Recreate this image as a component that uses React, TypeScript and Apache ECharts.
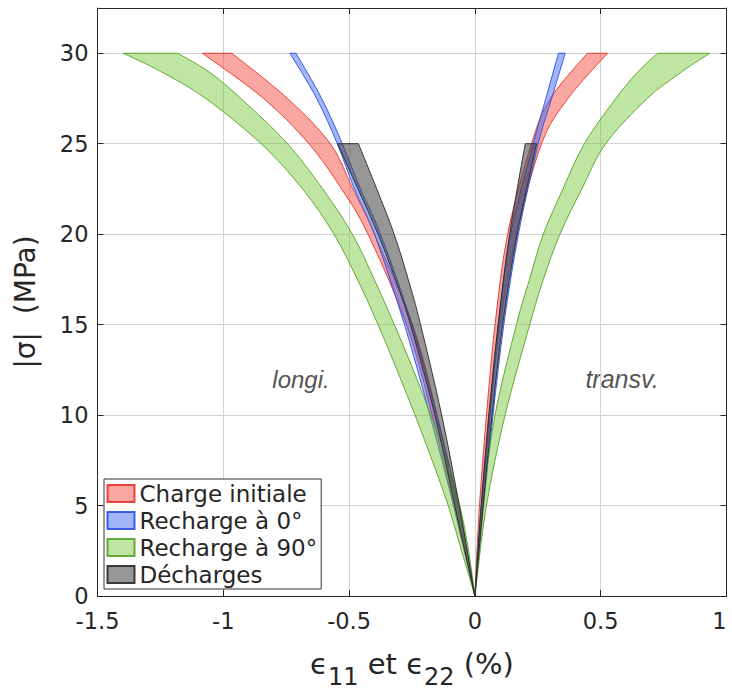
import React, { useEffect, useRef } from "react";
import * as echarts from "echarts";

// x: strain ε (%), y: |σ| (MPa)
const xTickValues = [-1.5, -1, -0.5, 0, 0.5, 1];
const yTickValues = [0, 5, 10, 15, 20, 25, 30];

// Charge initiale (red)
const chargeLeftOuter = [[0, 0], [-0.085, 5], [-0.17, 10], [-0.272, 15], [-0.425, 20], [-0.53, 22.5], [-0.66, 25], [-0.84, 27.5], [-1.083, 30]];
const chargeLeftInner = [[0, 0], [-0.07, 5], [-0.15, 10], [-0.248, 15], [-0.399, 20], [-0.485, 22.5], [-0.575, 25], [-0.745, 27.5], [-0.966, 30]];
const chargeRightInner = [[0, 0], [0.018, 5], [0.046, 10], [0.08, 15], [0.13, 20], [0.225, 25], [0.3, 27.5], [0.447, 30]];
const chargeRightOuter = [[0, 0], [0.03, 5], [0.06, 10], [0.1, 15], [0.165, 20], [0.265, 25], [0.37, 27.5], [0.527, 30]];

// Recharge à 0° (blue)
const r0LeftOuter = [[0, 0], [-0.085, 5], [-0.179, 10], [-0.28, 15], [-0.399, 20], [-0.479, 22.5], [-0.547, 25], [-0.629, 27.5], [-0.735, 30]];
const r0LeftInner = [[0, 0], [-0.065, 5], [-0.152, 10], [-0.25, 15], [-0.375, 20], [-0.455, 22.5], [-0.527, 25], [-0.609, 27.5], [-0.711, 30]];
const r0RightInner = [[0, 0], [0.025, 5], [0.058, 10], [0.094, 15], [0.142, 20], [0.232, 25], [0.282, 27.5], [0.332, 30]];
const r0RightOuter = [[0, 0], [0.035, 5], [0.072, 10], [0.115, 15], [0.173, 20], [0.252, 25], [0.305, 27.5], [0.359, 30]];

// Recharge à 90° (green)
const r90LeftOuter = [[0, 0], [-0.053, 2.5], [-0.106, 5], [-0.17, 7.5], [-0.238, 10], [-0.31, 12.5], [-0.385, 15], [-0.467, 17.5], [-0.56, 20], [-0.685, 22.5], [-0.85, 25], [-1.07, 27.5], [-1.25, 29], [-1.398, 30]];
const r90LeftInner = [[0, 0], [-0.025, 2.5], [-0.06, 5], [-0.112, 7.5], [-0.175, 10], [-0.245, 12.5], [-0.32, 15], [-0.4, 17.5], [-0.487, 20], [-0.605, 22.5], [-0.745, 25], [-0.93, 27.5], [-1.06, 29], [-1.182, 30]];
const r90RightInner = [[0, 0], [0.03, 5], [0.08, 10], [0.165, 15], [0.217, 17.5], [0.272, 20], [0.35, 22.5], [0.435, 25], [0.56, 27.5], [0.65, 29], [0.727, 30]];
const r90RightOuter = [[0, 0], [0.046, 5], [0.12, 10], [0.218, 15], [0.272, 17.5], [0.338, 20], [0.425, 22.5], [0.52, 25], [0.685, 27.5], [0.825, 29], [0.934, 30]];

// Décharges (gray)
const dLeftOuter = [[0, 0], [-0.08, 5], [-0.159, 10], [-0.256, 15], [-0.316, 17.5], [-0.385, 20], [-0.465, 22.5], [-0.546, 25]];
const dLeftInner = [[0, 0], [-0.062, 5], [-0.132, 10], [-0.216, 15], [-0.265, 17.5], [-0.321, 20], [-0.39, 22.5], [-0.463, 25]];
const dRightInner = [[0, 0], [0.025, 5], [0.055, 10], [0.092, 15], [0.138, 20], [0.2, 25]];
const dRightOuter = [[0, 0], [0.033, 5], [0.068, 10], [0.11, 15], [0.168, 20], [0.245, 25]];

const seriesNames = ["Charge initiale", "Recharge à 0°", "Recharge à 90°", "Décharges"];

const bands = [
  { name: seriesNames[0], curves: [chargeLeftOuter, chargeLeftInner, chargeRightInner, chargeRightOuter], fill: "rgba(246,72,58,0.48)", stroke: "rgba(230,40,30,0.85)" },
  { name: seriesNames[1], curves: [r0LeftOuter, r0LeftInner, r0RightInner, r0RightOuter], fill: "rgba(60,100,245,0.48)", stroke: "rgba(40,80,225,0.9)" },
  { name: seriesNames[2], curves: [r90LeftOuter, r90LeftInner, r90RightInner, r90RightOuter], fill: "rgba(120,200,60,0.48)", stroke: "rgba(90,160,40,0.9)" },
  { name: seriesNames[3], curves: [dLeftOuter, dLeftInner, dRightInner, dRightOuter], fill: "rgba(70,70,70,0.56)", stroke: "rgba(40,40,40,0.9)" },
];

// smooth (Catmull-Rom -> cubic Bézier) segment string through pixel points, without the initial M/L
function smoothSegs(p: number[][]) {
  let s = "";
  const n = p.length;
  for (let i = 0; i < n - 1; i++) {
    const p0 = p[Math.max(i - 1, 0)];
    const p1 = p[i];
    const p2 = p[i + 1];
    const p3 = p[Math.min(i + 2, n - 1)];
    const c1x = p1[0] + (p2[0] - p0[0]) / 6;
    const c1y = p1[1] + (p2[1] - p0[1]) / 6;
    const c2x = p2[0] - (p3[0] - p1[0]) / 6;
    const c2y = p2[1] - (p3[1] - p1[1]) / 6;
    s += ` C${c1x.toFixed(2)} ${c1y.toFixed(2)} ${c2x.toFixed(2)} ${c2y.toFixed(2)} ${p2[0].toFixed(2)} ${p2[1].toFixed(2)}`;
  }
  return s;
}

function bandPath(curves: number[][][], coord: (p: number[]) => number[]) {
  const [lo, li, ri, ro] = curves.map((c) => c.map(coord));
  const liR = li.slice().reverse();
  const roR = ro.slice().reverse();
  let d = `M${lo[0][0]} ${lo[0][1]}` + smoothSegs(lo);
  d += ` L${liR[0][0]} ${liR[0][1]}` + smoothSegs(liR);
  d += ` L${ri[0][0]} ${ri[0][1]}` + smoothSegs(ri);
  d += ` L${roR[0][0]} ${roR[0][1]}` + smoothSegs(roR) + " Z";
  return d;
}

const FONT = "DejaVu Sans";
const DARK = "#262626";

export default function App() {
  const ref = useRef<HTMLDivElement>(null);
  useEffect(() => {
    if (!ref.current) return;
    const chart = echarts.init(ref.current, undefined, { renderer: "svg" });
    const axisCommon = {
      type: "value" as const,
      axisLine: { show: true, onZero: false, lineStyle: { color: DARK, width: 1 } },
      axisTick: { show: true, inside: true, length: 6, lineStyle: { color: DARK } },
    };
    chart.setOption({
      animation: false,
      backgroundColor: "#fff",
      grid: { left: 97.5, right: 5.5, top: 8, bottom: 97, outerBoundsMode: "none", containLabel: false },
      legend: {
        orient: "vertical",
        left: 104,
        top: 479,
        padding: [3, 4, 3, 2.5],
        itemWidth: 27,
        itemHeight: 17,
        itemGap: 4,
        itemTextGap: 10,
        backgroundColor: "#fff",
        borderColor: "#333",
        borderWidth: 1,
        borderRadius: 0,
        icon: "rect",
        data: seriesNames,
        textStyle: { fontFamily: FONT, fontSize: 23, color: DARK },
      },
      xAxis: [
        {
          ...axisCommon,
          min: -1.5,
          max: 1,
          interval: 0.5,
          position: "bottom",
          axisLabel: {
            fontFamily: FONT,
            fontSize: 22.5,
            color: DARK,
            margin: 13,
            alignMaxLabel: "right",
            formatter: (v: number) => String(v),
          },
          splitLine: { show: true, lineStyle: { color: "#d2d2d2", width: 1 } },
          name: "{e|ϵ}{s|11}{n| et }{e|ϵ}{s|22}{n| (%)}",
          nameLocation: "middle",
          nameGap: 43,
          nameTextStyle: {
            fontFamily: FONT,
            color: DARK,
            rich: {
              e: { fontFamily: FONT, fontSize: 29, color: DARK, lineHeight: 30, verticalAlign: "middle" },
              n: { fontFamily: FONT, fontSize: 29, color: DARK, lineHeight: 30, verticalAlign: "middle" },
              s: { fontFamily: FONT, fontSize: 24, color: DARK, lineHeight: 50, verticalAlign: "bottom" },
            },
          },
        },
        {
          ...axisCommon,
          min: -1.5,
          max: 1,
          interval: 0.5,
          position: "top",
          axisLabel: { show: false },
          splitLine: { show: false },
        },
      ],
      yAxis: [
        {
          ...axisCommon,
          min: 0,
          max: 32.5,
          interval: 5,
          position: "left",
          axisLabel: {
            fontFamily: FONT,
            fontSize: 22.5,
            color: DARK,
            margin: 9,
            formatter: (v: number) => (yTickValues.indexOf(v) >= 0 ? String(v) : ""),
          },
          splitLine: { show: true, lineStyle: { color: "#d2d2d2", width: 1 } },
          name: "|σ|  (MPa)",
          nameLocation: "middle",
          nameGap: 58,
          nameTextStyle: { fontFamily: FONT, fontSize: 28, color: DARK },
        },
        {
          ...axisCommon,
          min: 0,
          max: 32.5,
          interval: 5,
          position: "right",
          axisLabel: { show: false },
          splitLine: { show: false },
        },
      ],
      graphic: [
        { type: "text", x: 301, y: 379, style: { text: "longi.", font: "italic 24px 'Liberation Sans'", fill: "#555", textAlign: "center", textVerticalAlign: "middle" } },
        { type: "text", x: 622, y: 379, style: { text: "transv.", font: "italic 25px 'Liberation Sans'", fill: "#555", textAlign: "center", textVerticalAlign: "middle" } },
      ],
      series: bands.map((b) => ({
        type: "custom",
        name: b.name,
        xAxisIndex: 0,
        yAxisIndex: 0,
        data: ([] as number[][]).concat(...b.curves),
        encode: { x: 0, y: 1 },
        itemStyle: { color: b.fill, borderColor: b.stroke, borderWidth: 1 },
        renderItem: (params: any, api: any) => {
          if (params.dataIndex !== 0) return null;
          const d = bandPath(b.curves, (p) => api.coord(p));
          return {
            type: "path",
            shape: { pathData: d },
            style: { fill: b.fill, stroke: b.stroke, lineWidth: 1 },
          };
        },
      })),
    });
    return () => chart.dispose();
  }, []);
  return <div ref={ref} style={{ width: 732, height: 693, position: "absolute", left: 0, top: 0 }} />;
}
